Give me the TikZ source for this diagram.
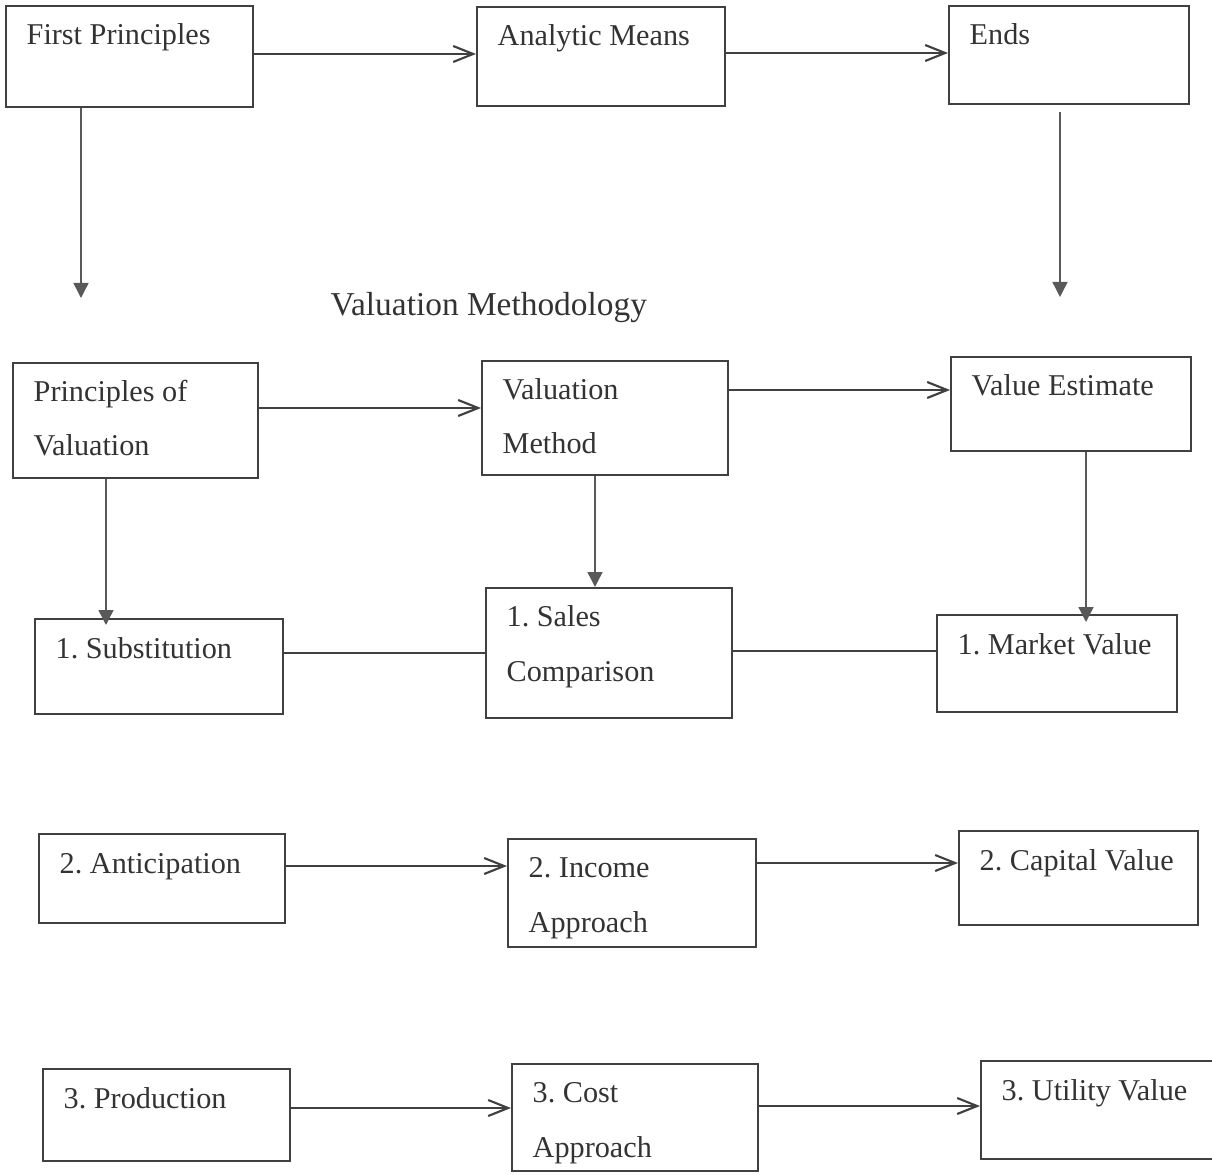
\documentclass[tikz,border=0pt]{standalone}
\usepackage{fontspec}
\setmainfont{Liberation Serif}
\usetikzlibrary{arrows.meta}

\tikzset{
  box/.style={draw=black!75, line width=0.7pt, inner sep=0pt, anchor=north west},
  txt/.style={anchor=base west, inner sep=0pt, align=left, text=black!80,
    font=\fontsize{8.6}{15.4}\selectfont\frenchspacing, xshift=0.21cm, yshift=-0.40cm},
  txttwo/.style={txt, yshift=-0.54cm},
  harrow/.style={draw=black!75, line width=0.6pt, -{Straight Barb[length=2mm,width=1.6mm]}},
  varrow/.style={draw=black!65, line width=0.4pt, -{Triangle[length=1.5mm,width=1.5mm]}},
  hline/.style={draw=black!75, line width=0.6pt}
}

\begin{document}
\begin{tikzpicture}
    \useasboundingbox (0,0) rectangle (12.12,-11.75);
    % first row
    \node[box, minimum width=2.47cm, minimum height=1.01cm, label={[txt]north west:First Principles}] (fp) at (0.05,-0.05) {};
    \node[box, minimum width=2.48cm, minimum height=0.99cm, label={[txt]north west:Analytic Means}] (am) at (4.76,-0.06) {};
    \node[box, minimum width=2.40cm, minimum height=0.98cm, label={[txt]north west:Ends}] (ends) at (9.48,-0.05) {};
    \coordinate (fpend) at (0.81,-2.98);
    \coordinate (endsend) at (10.60,-2.97);
    \draw[harrow] (fp.east |- 0,-0.54) -- (am.west |- 0,-0.54);
    \draw[harrow] (am.east |- 0,-0.53) -- (ends.west |- 0,-0.53);
    \draw[varrow] (fp.south -| fpend) -- (fpend);
    \draw[varrow] (ends.south -| endsend) ++(0,-0.07) -- (endsend);
    \node[anchor=base west, inner sep=0pt, text=black!80, font=\fontsize{9.5}{12}\selectfont] (title) at (3.30,-3.16) {Valuation Methodology};
    % second row
    \node[box, minimum width=2.45cm, minimum height=1.15cm, label={[txttwo]north west:Principles of\\Valuation}] (pov) at (0.12,-3.62) {};
    \node[box, minimum width=2.46cm, minimum height=1.14cm, label={[txttwo]north west:Valuation\\Method}] (vm) at (4.81,-3.60) {};
    \node[box, minimum width=2.40cm, minimum height=0.94cm, label={[txt]north west:Value Estimate}] (ve) at (9.50,-3.56) {};
    \draw[harrow] (pov.east |- 0,-4.08) -- (vm.west |- 0,-4.08);
    \draw[harrow] (vm.east |- 0,-3.90) -- (ve.west |- 0,-3.90);
    % third row
    \node[box, minimum width=2.48cm, minimum height=0.95cm, label={[txt]north west:1. Substitution}] (sub) at (0.34,-6.18) {};
    \node[box, minimum width=2.46cm, minimum height=1.30cm, label={[txttwo]north west:1. Sales\\Comparison}] (sales) at (4.85,-5.87) {};
    \node[box, minimum width=2.40cm, minimum height=0.97cm, label={[txt]north west:1. Market Value}] (mv) at (9.36,-6.14) {};
    \draw[varrow] (pov.south -| 1.06,0) -- ([yshift=-0.07cm]sub.north -| 1.06,0);
    \draw[varrow] (vm.south -| 5.95,0) -- (sales.north -| 5.95,0);
    \draw[varrow] (ve.south -| 10.86,0) -- ([yshift=-0.08cm]mv.north -| 10.86,0);
    \draw[hline] (sub.east |- 0,-6.53) -- (sales.west |- 0,-6.53);
    \draw[hline] (sales.east |- 0,-6.51) -- (mv.west |- 0,-6.51);
    % fourth row
    \node[box, minimum width=2.46cm, minimum height=0.89cm, label={[txt]north west:2. Anticipation}] (ant) at (0.38,-8.33) {};
    \node[box, minimum width=2.48cm, minimum height=1.08cm, label={[txttwo]north west:2. Income\\Approach}] (inc) at (5.07,-8.38) {};
    \node[box, minimum width=2.39cm, minimum height=0.94cm, label={[txt]north west:2. Capital Value}] (cap) at (9.58,-8.30) {};
    \draw[harrow] (ant.east |- 0,-8.66) -- (inc.west |- 0,-8.66);
    \draw[harrow] (inc.east |- 0,-8.63) -- (cap.west |- 0,-8.63);
    % fifth row
    \node[box, minimum width=2.47cm, minimum height=0.92cm, label={[txt]north west:3. Production}] (prod) at (0.42,-10.68) {};
    \node[box, minimum width=2.46cm, minimum height=1.07cm, label={[txttwo]north west:3. Cost\\Approach}] (cost) at (5.11,-10.63) {};
    \node[box, minimum width=2.50cm, minimum height=0.98cm, label={[txt]north west:3. Utility Value}] (util) at (9.80,-10.60) {};
    \draw[harrow] (prod.east |- 0,-11.08) -- (cost.west |- 0,-11.08);
    \draw[harrow] (cost.east |- 0,-11.06) -- (util.west |- 0,-11.06);
\end{tikzpicture}
\end{document}
